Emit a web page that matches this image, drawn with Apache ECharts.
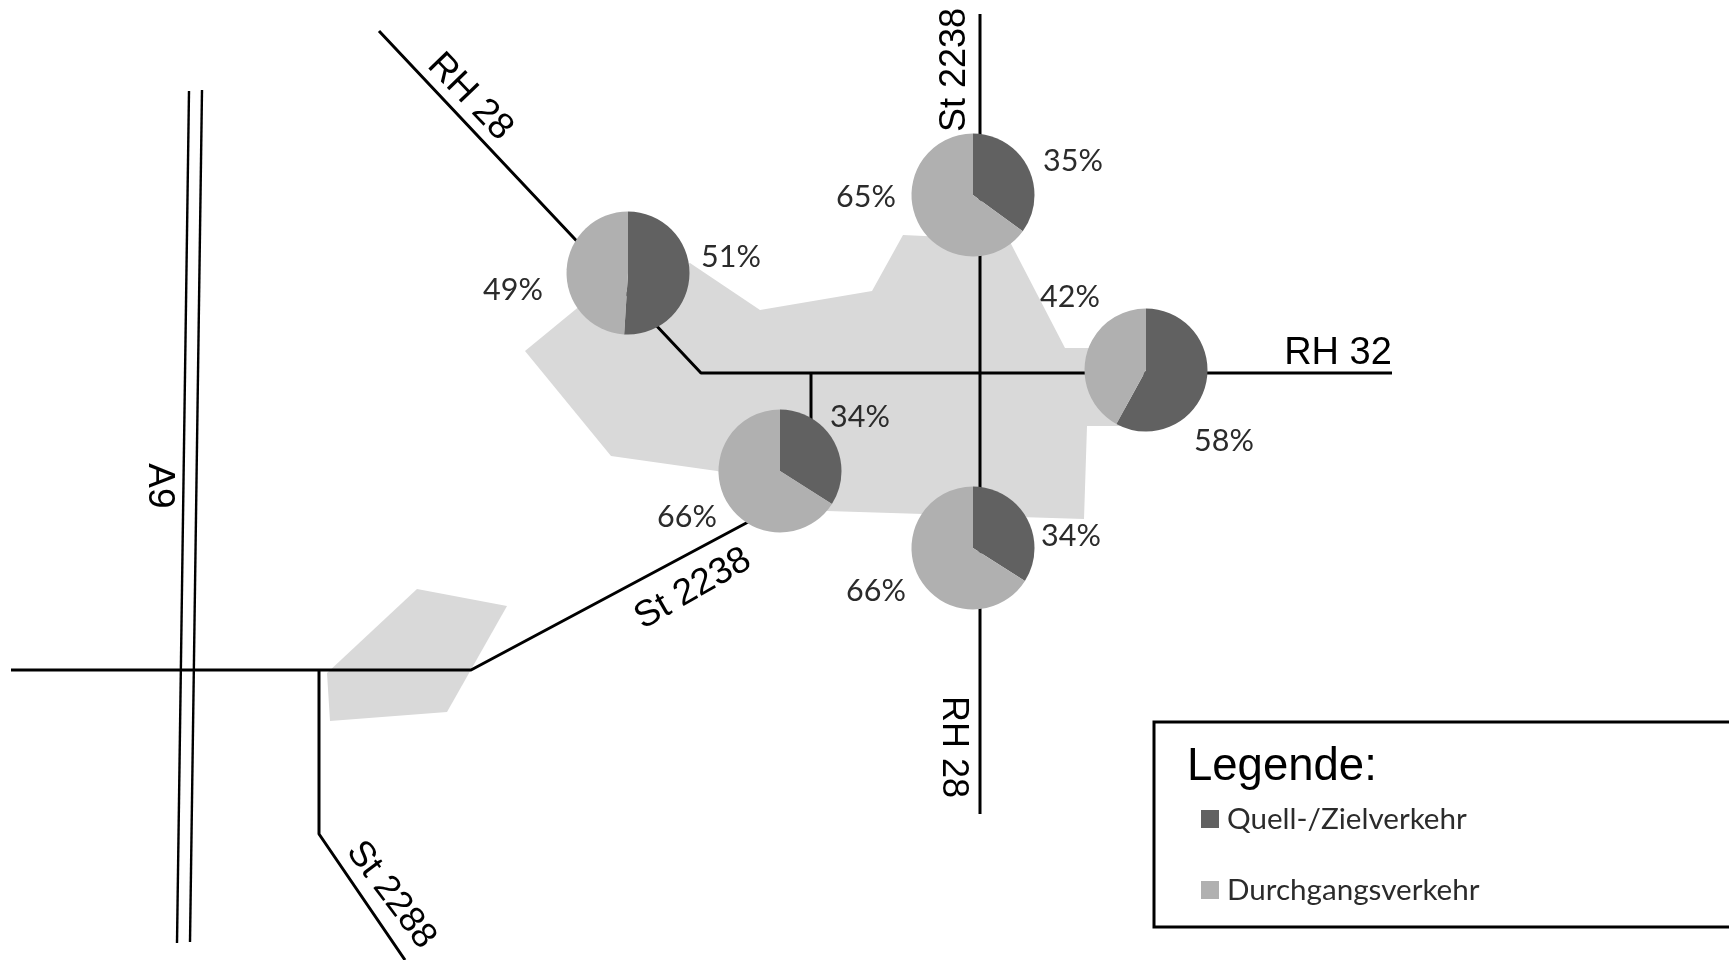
<!DOCTYPE html>
<html><head><meta charset="utf-8">
<style>html,body{margin:0;padding:0;background:#fff}#c{width:1729px;height:960px}</style>
<script src="https://cdn.jsdelivr.net/npm/echarts@6/dist/echarts.min.js"></script>
</head><body><div id="c"></div>
<script>
// Traffic share values per junction (percent)
const categories = ['Quell-/Zielverkehr', 'Durchgangsverkehr'];
const quellZiel = [51, 35, 58, 34, 34];
const durchgang = [49, 65, 42, 66, 66];
const pieCenters = [[628,273],[973,195],[1146,370],[780,471],[973,548]];
// [Quell label pos, Durchgang label pos]
const quellLabelPos = [[731,257],[1073,161],[1224,441],[860,417],[1071,536]];
const durchgangLabelPos = [[513,290],[866,197],[1070,297],[687,517],[876,591]];
// Roads
const roadA9a = [[189,91],[177,943]];
const roadA9b = [[202,90],[190,942]];
const roadMain = [[379,31],[701,373],[1392,373]];
const roadNS = [[980,14],[980,814]];
const roadStub = [[811,373],[811,425]];
const roadWest = [[11,670],[471,670],[750,521]];
const roadSouth = [[319,670],[319,834],[405,960]];
// Built-up areas
const areaMain = [[525,351],[581,305],[690,263],[760,310],[872,291],[903,235],[1009,240],[1065,348],[1125,348],[1125,426],[1087,426],[1084,519],[827,511],[717,471],[611,456]];
const areaWest = [[417,589],[507,606],[447,712],[330,721],[327,673]];
// Road names
const roadNames = ['RH 28','St 2238','RH 32','St 2238','RH 28','St 2288','A9'];
const roadNamePos = [[470,97],[955,70],[1338,354],[693,589],[953,747],[391,895],[159,486]];
const roadNameRot = [-46,90,0,30,-90,-53,-90];
const roadNameSize = [37,36,38,37,36,36,37];

const dark = '#616161', light = '#b0b0b0';
const road = (data,w) => ({type:'line', data, symbol:'none', silent:true, z:3,
  lineStyle:{color:'#000', width:w||3}});
const area = (pts) => ({type:'custom', silent:true, z:1, data:[0],
  renderItem:(p,api)=>({type:'polygon', shape:{points:pts.map(q=>api.coord(q))}, style:{fill:'#d9d9d9'}})});

const pies = quellZiel.map((q,i)=>({
  type:'pie', z:5, center:pieCenters[i], radius:61.5, startAngle:90, clockwise:true,
  avoidLabelOverlap:false, silent:true, animation:false,
  labelLine:{show:false},
  label:{show:true, formatter:'{c}%', fontFamily:'Lato', fontSize:30.5, color:'#2b2b2b'},
  labelLayout:(p)=>{
    const pos = p.dataIndex===0 ? quellLabelPos[i] : durchgangLabelPos[i];
    return {x:pos[0], y:pos[1], align:'center', verticalAlign:'middle'};
  },
  itemStyle:{borderWidth:0},
  data:[
    {name:categories[0], value:q, itemStyle:{color:dark}},
    {name:categories[1], value:durchgang[i], itemStyle:{color:light}}
  ]
}));

const chart = echarts.init(document.getElementById('c'), null, {renderer:'canvas'});
chart.setOption({
  animation:false, backgroundColor:'#fff',
  grid:{left:0,right:0,top:0,bottom:0},
  xAxis:{type:'value',min:0,max:1729,show:false},
  yAxis:{type:'value',min:0,max:960,inverse:true,show:false},
  title:{text:'Legende:', left:1187, top:744, textStyle:{fontFamily:'Liberation Sans',fontSize:45.5,fontWeight:'normal',color:'#000'}, padding:0},
  legend:{
    orient:'vertical', left:1201, top:804, itemWidth:18, itemHeight:18, itemGap:41,
    icon:'rect', selectedMode:false, data:categories, padding:0,
    textStyle:{fontFamily:'Lato',fontSize:29.6,color:'#2b2b2b',padding:[0,0,0,3]}
  },
  graphic:[{type:'rect', z:0, shape:{x:1154,y:722,width:700,height:205}, style:{fill:'#fff',stroke:'#000',lineWidth:3}}],
  series:[
    area(areaMain), area(areaWest),
    road(roadA9a,2.4), road(roadA9b,2.4), road(roadMain), road(roadNS), road(roadStub), road(roadWest), road(roadSouth),
    {type:'scatter', z:6, silent:true, symbolSize:1, itemStyle:{color:'rgba(0,0,0,0)',opacity:1},
     data:roadNames.map((n,i)=>({value:roadNamePos[i],
       label:{show:true,position:'inside',formatter:n,rotate:roadNameRot[i],fontFamily:'Liberation Sans',fontSize:roadNameSize[i],color:'#000'}}))},
    ...pies
  ]
});
</script></body></html>
